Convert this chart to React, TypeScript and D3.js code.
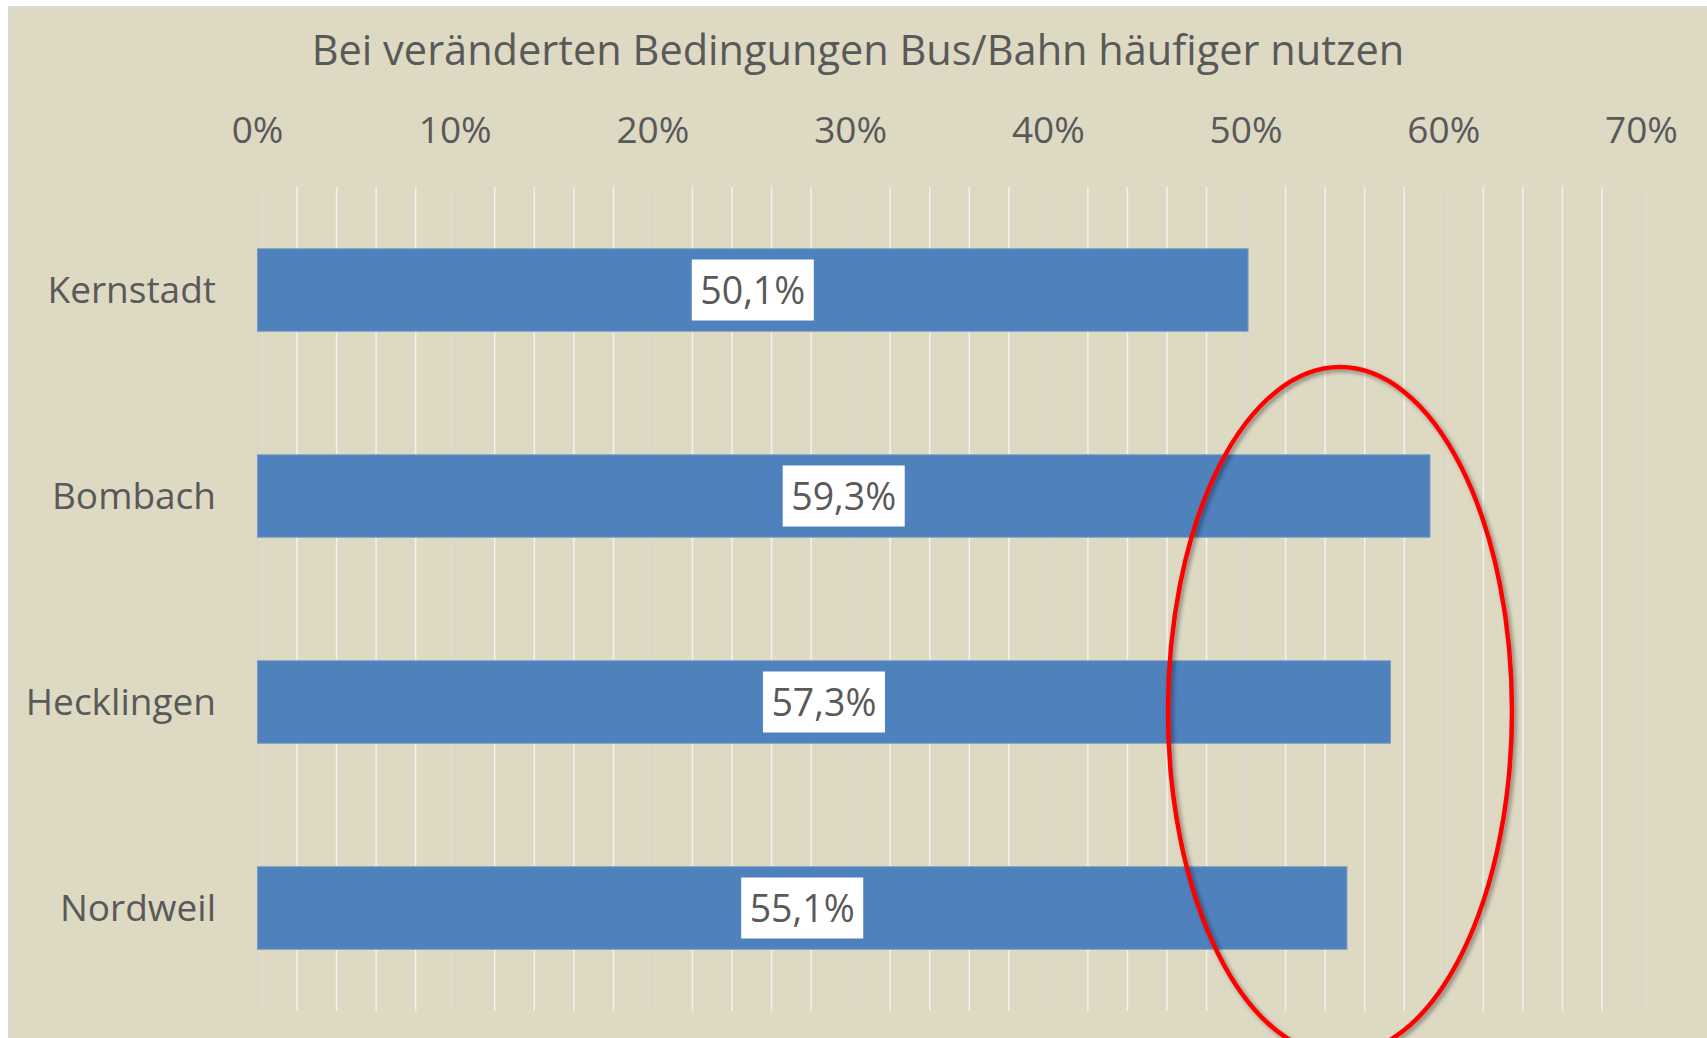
import React from "react";
import * as d3 from "d3";

const title = "Bei veränderten Bedingungen Bus/Bahn häufiger nutzen";
const categories = ["Kernstadt", "Bombach", "Hecklingen", "Nordweil"];
const values = [50.1, 59.3, 57.3, 55.1];
const majorTicks = [0, 10, 20, 30, 40, 50, 60, 70];
const minorTicks = d3.range(0, 71, 2);

const W = 1707;
const H = 1038;
const FONT = "'Open Sans', 'Noto Sans', sans-serif";
const TEXT = "#595959";

export default function App() {
  const x = d3.scaleLinear().domain([0, 70]).range([257.5, 1641.5]);
  const y = d3.scaleBand().domain(categories).range([187, 1011]).paddingInner(0.6).paddingOuter(0.3);
  const fmt = (v: number) => v.toFixed(1).replace(".", ",") + "%";

  return (
    <svg width={W} height={H} style={{ position: "absolute", left: 0, top: 0, background: "#fff" }}>
      <defs>
        <filter id="sh" x="-20%" y="-20%" width="140%" height="140%">
          <feDropShadow dx="2.5" dy="2.5" stdDeviation="2" floodColor="#000" floodOpacity="0.4" />
        </filter>
      </defs>
      <rect x={8} y={6} width={W} height={H} fill="#d9d9d9" />
      <rect x={9} y={7} width={W} height={H} fill="#ddd9c3" />
      <text x={858} y={65} textAnchor="middle" fontFamily={FONT} fontSize={41.5} fill={TEXT}>
        {title}
      </text>
      {minorTicks.map((t) => (
        <line
          key={"g" + t}
          x1={x(t)}
          x2={x(t)}
          y1={187}
          y2={1011}
          stroke={t % 10 === 0 ? "#d6d6d0" : "#f2f2f2"}
          strokeWidth={1.5}
        />
      ))}
      {majorTicks.map((t) => (
        <text key={"t" + t} x={x(t)} y={143} textAnchor="middle" fontFamily={FONT} fontSize={37} fill={TEXT}>
          {t + "%"}
        </text>
      ))}
      {categories.map((c, i) => {
        const yb = y(c)!;
        const bh = y.bandwidth();
        const cy = yb + bh / 2;
        const x0 = x(0);
        const x1 = x(values[i]);
        const mid = (x0 + x1) / 2;
        return (
          <g key={c}>
            <text x={216} y={cy + 13} textAnchor="end" fontFamily={FONT} fontSize={37} fill={TEXT}>
              {c}
            </text>
            <rect x={x0} y={yb} width={x1 - x0} height={bh} fill="#4f81bd" stroke="#7399c6" strokeWidth={1} />
            <rect x={mid - 61} y={cy - 30.5} width={122} height={61} fill="#ffffff" />
            <text x={mid} y={cy + 13.5} textAnchor="middle" fontFamily={FONT} fontSize={37.5} fill={TEXT}>
              {fmt(values[i])}
            </text>
          </g>
        );
      })}
      <ellipse cx={1340} cy={711} rx={172} ry={344} fill="none" stroke="#ff0000" strokeWidth={4.5} filter="url(#sh)" />
    </svg>
  );
}
